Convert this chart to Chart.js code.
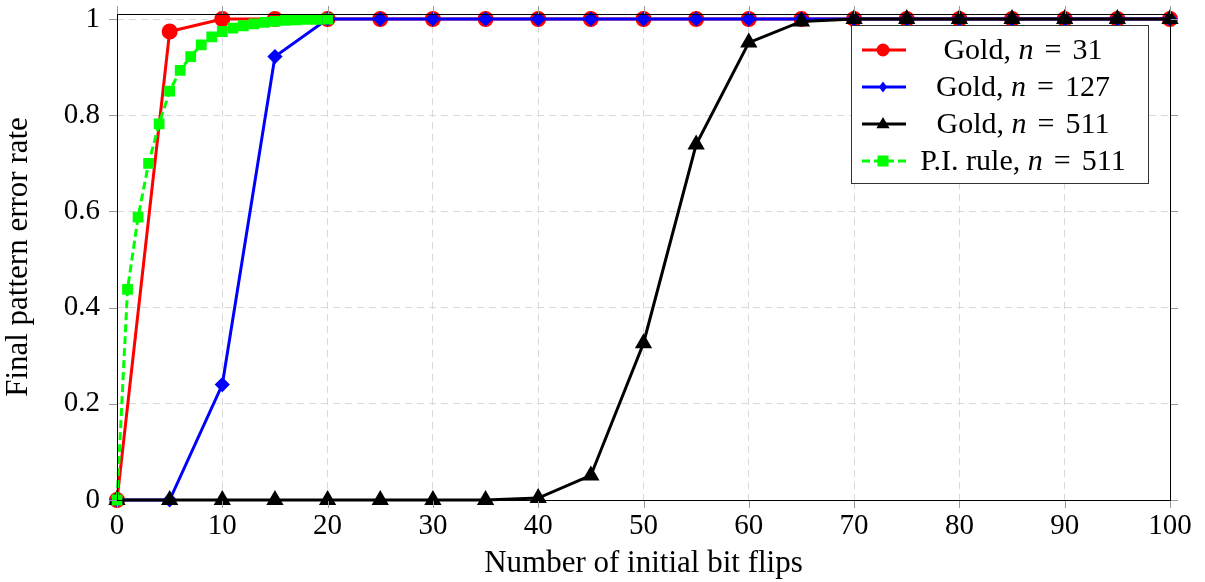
<!DOCTYPE html>
<html>
<head>
<meta charset="utf-8">
<script src="https://cdn.jsdelivr.net/npm/chart.js@4"></script>
<style>
  html, body { margin: 0; padding: 0; background: #fff; }
  #wrap { width: 1205px; height: 582px; }
</style>
</head>
<body>
<div id="wrap"><canvas id="chart" width="1205" height="582"></canvas></div>
<script>
// data
const goldX = [0, 5, 10, 15, 20, 25, 30, 35, 40, 45, 50, 55, 60, 65, 70, 75, 80, 85, 90, 95, 100];
const gold31 = [0, 0.974, 1, 1, 1, 1, 1, 1, 1, 1, 1, 1, 1, 1, 1, 1, 1, 1, 1, 1, 1];
const gold127 = [0, 0, 0.24, 0.922, 1, 1, 1, 1, 1, 1, 1, 1, 1, 1, 1, 1, 1, 1, 1, 1, 1];
const gold511 = [0, 0, 0, 0, 0, 0, 0, 0, 0.004, 0.051, 0.326, 0.739, 0.951, 0.995, 1, 1, 1, 1, 1, 1, 1];
const piX = [0, 1, 2, 3, 4, 5, 6, 7, 8, 9, 10, 11, 12, 13, 14, 15, 16, 17, 18, 19, 20];
const pi511 = [0, 0.438, 0.588, 0.70, 0.782, 0.85, 0.893, 0.922, 0.946, 0.963, 0.974, 0.981, 0.986, 0.99, 0.993, 0.995, 0.997, 0.998, 0.999, 0.999, 1];
const xTicks = [0, 10, 20, 30, 40, 50, 60, 70, 80, 90, 100];
const yTicks = [0, 0.2, 0.4, 0.6, 0.8, 1];
const legendParts = [['Gold, ', '31'], ['Gold, ', '127'], ['Gold, ', '511'], ['P.I. rule, ', '511']];

const serif = '"Liberation Serif", "DejaVu Serif", serif';

function pts(xs, ys) {
    return xs.map((x, i) => ({ x: x, y: ys[i] }));
}

// box + outward ticks on all four sides
const boxPlugin = {
    id: 'box',
    afterDraw(chart) {
        const { ctx, chartArea: a, scales } = chart;
        ctx.save();
        ctx.strokeStyle = '#999';
        ctx.lineWidth = 1;
        ctx.beginPath();
        xTicks.forEach(v => {
            const px = Math.round(scales.x.getPixelForValue(v)) + 0.5;
            ctx.moveTo(px, a.bottom); ctx.lineTo(px, a.bottom + 8);
            ctx.moveTo(px, a.top); ctx.lineTo(px, a.top - 8);
        });
        yTicks.forEach(v => {
            const py = Math.round(scales.y.getPixelForValue(v)) + 0.5;
            ctx.moveTo(a.left, py); ctx.lineTo(a.left - 8, py);
            ctx.moveTo(a.right, py); ctx.lineTo(a.right + 8, py);
        });
        ctx.stroke();
        ctx.strokeStyle = '#000';
        ctx.lineWidth = 1;
        ctx.strokeRect(Math.round(a.left) + 0.5, Math.round(a.top) + 0.5,
            Math.round(a.right - a.left), Math.round(a.bottom - a.top));
        ctx.restore();
    }
};

// legend with italic n, like the original
const legendPlugin = {
    id: 'mathLegend',
    afterDraw(chart) {
        const ctx = chart.ctx;
        const bx = 851, by = 25, bw = 297, bh = 158;
        const rowY = [50, 87, 124, 161];
        const fs = 30;
        ctx.save();
        ctx.fillStyle = '#fff';
        ctx.fillRect(bx, by, bw, bh);
        ctx.strokeStyle = '#333';
        ctx.lineWidth = 1;
        ctx.strokeRect(bx + 0.5, by + 0.5, bw, bh);
        chart.data.datasets.forEach((ds, i) => {
            const y = rowY[i];
            ctx.strokeStyle = ds.borderColor;
            ctx.lineWidth = ds.borderWidth;
            ctx.setLineDash(ds.borderDash || []);
            ctx.beginPath();
            ctx.moveTo(862, y); ctx.lineTo(906, y);
            ctx.stroke();
            ctx.setLineDash([]);
            drawMarker(ctx, ds.pointStyle, 883, y, ds.pointRadius, ds.pointBackgroundColor);

            const p = legendParts[i];
            const fN = 'italic ' + fs + 'px ' + serif, fR = fs + 'px ' + serif;
            const gap = fs * 0.37;
            ctx.font = fR;
            const w1 = ctx.measureText(p[0]).width;
            const wEq = ctx.measureText('=').width;
            const w3 = ctx.measureText(p[1]).width;
            ctx.font = fN;
            const w2 = ctx.measureText('n').width;
            const total = w1 + w2 + gap + wEq + gap + w3;
            let x = 1023 - total / 2;
            ctx.fillStyle = '#000';
            ctx.textBaseline = 'middle';
            ctx.textAlign = 'left';
            ctx.font = fR; ctx.fillText(p[0], x, y + 1); x += w1;
            ctx.font = fN; ctx.fillText('n', x, y + 1); x += w2 + gap;
            ctx.font = fR; ctx.fillText('=', x, y + 1); x += wEq + gap;
            ctx.fillText(p[1], x, y + 1);
        });
        ctx.restore();
    }
};

function drawMarker(ctx, style, x, y, r, color) {
    ctx.fillStyle = color;
    ctx.beginPath();
    if (style === 'circle') {
        ctx.arc(x, y, r, 0, Math.PI * 2);
    } else if (style === 'rectRot') {
        ctx.moveTo(x, y - r); ctx.lineTo(x + r * 0.75, y); ctx.lineTo(x, y + r); ctx.lineTo(x - r * 0.75, y);
    } else if (style === 'triangle') {
        ctx.moveTo(x, y - r); ctx.lineTo(x + r * 0.95, y + r * 0.6); ctx.lineTo(x - r * 0.95, y + r * 0.6);
    } else {
        ctx.rect(x - r, y - r, 2 * r, 2 * r);
    }
    ctx.closePath();
    ctx.fill();
}

new Chart(document.getElementById('chart').getContext('2d'), {
    type: 'line',
    data: {
        datasets: [
            {
                label: 'Gold, n = 31',
                data: pts(goldX, gold31),
                borderColor: '#ff0000',
                backgroundColor: '#ff0000',
                pointBackgroundColor: '#ff0000',
                pointBorderColor: '#ff0000',
                pointStyle: 'circle',
                pointRadius: 6.5,
                borderWidth: 3,
                order: 4
            },
            {
                label: 'Gold, n = 127',
                data: pts(goldX, gold127),
                borderColor: '#0000ff',
                backgroundColor: '#0000ff',
                pointBackgroundColor: '#0000ff',
                pointBorderColor: '#0000ff',
                pointStyle: 'rectRot',
                pointRadius: 5.5,
                borderWidth: 3,
                order: 3
            },
            {
                label: 'Gold, n = 511',
                data: pts(goldX, gold511),
                borderColor: '#000000',
                backgroundColor: '#000000',
                pointBackgroundColor: '#000000',
                pointBorderColor: '#000000',
                pointStyle: 'triangle',
                pointRadius: 7,
                borderWidth: 3,
                order: 2
            },
            {
                label: 'P.I. rule, n = 511',
                data: pts(piX, pi511),
                borderColor: '#00ff00',
                backgroundColor: '#00ff00',
                pointBackgroundColor: '#00ff00',
                pointBorderColor: '#00ff00',
                pointStyle: 'rect',
                pointRadius: 5.5,
                borderWidth: 3,
                borderDash: [8, 4],
                order: 1
            }
        ]
    },
    options: {
        responsive: false,
        animation: false,
        clip: false,
        layout: { padding: { left: 0, right: 35, top: 14, bottom: 0 } },
        plugins: {
            legend: { display: false },
            tooltip: { enabled: false }
        },
        elements: { line: { tension: 0 } },
        scales: {
            x: {
                type: 'linear',
                min: 0,
                max: 100,
                afterFit(s) { s.height = 82; s.paddingLeft = 0; s.paddingRight = 0; },
                afterBuildTicks(s) { s.ticks = xTicks.map(v => ({ value: v })); },
                border: { display: false, dash: [7, 5] },
                grid: { color: '#d9d9d9', lineWidth: 1, drawTicks: false, tickLength: 0 },
                ticks: {
                    padding: 9,
                    color: '#000',
                    font: { family: serif, size: 29 },
                    maxRotation: 0
                },
                title: {
                    display: true,
                    text: 'Number of initial bit flips',
                    color: '#000',
                    font: { family: serif, size: 31 },
                    padding: { top: 0, bottom: 0 }
                }
            },
            y: {
                min: 0,
                max: 1.0104,
                afterFit(s) { s.width = 117; s.paddingTop = 0; s.paddingBottom = 0; },
                afterBuildTicks(s) { s.ticks = yTicks.map(v => ({ value: v })); },
                border: { display: false, dash: [7, 5] },
                grid: { color: '#d9d9d9', lineWidth: 1, drawTicks: false, tickLength: 0 },
                ticks: {
                    padding: 17,
                    color: '#000',
                    font: { family: serif, size: 29 },
                    callback: v => String(Math.round(v * 10) / 10)
                },
                title: {
                    display: true,
                    text: 'Final pattern error rate',
                    color: '#000',
                    font: { family: serif, size: 31 },
                    padding: { top: 0, bottom: 0 }
                }
            }
        }
    },
    plugins: [boxPlugin, legendPlugin]
});
</script>
</body>
</html>
